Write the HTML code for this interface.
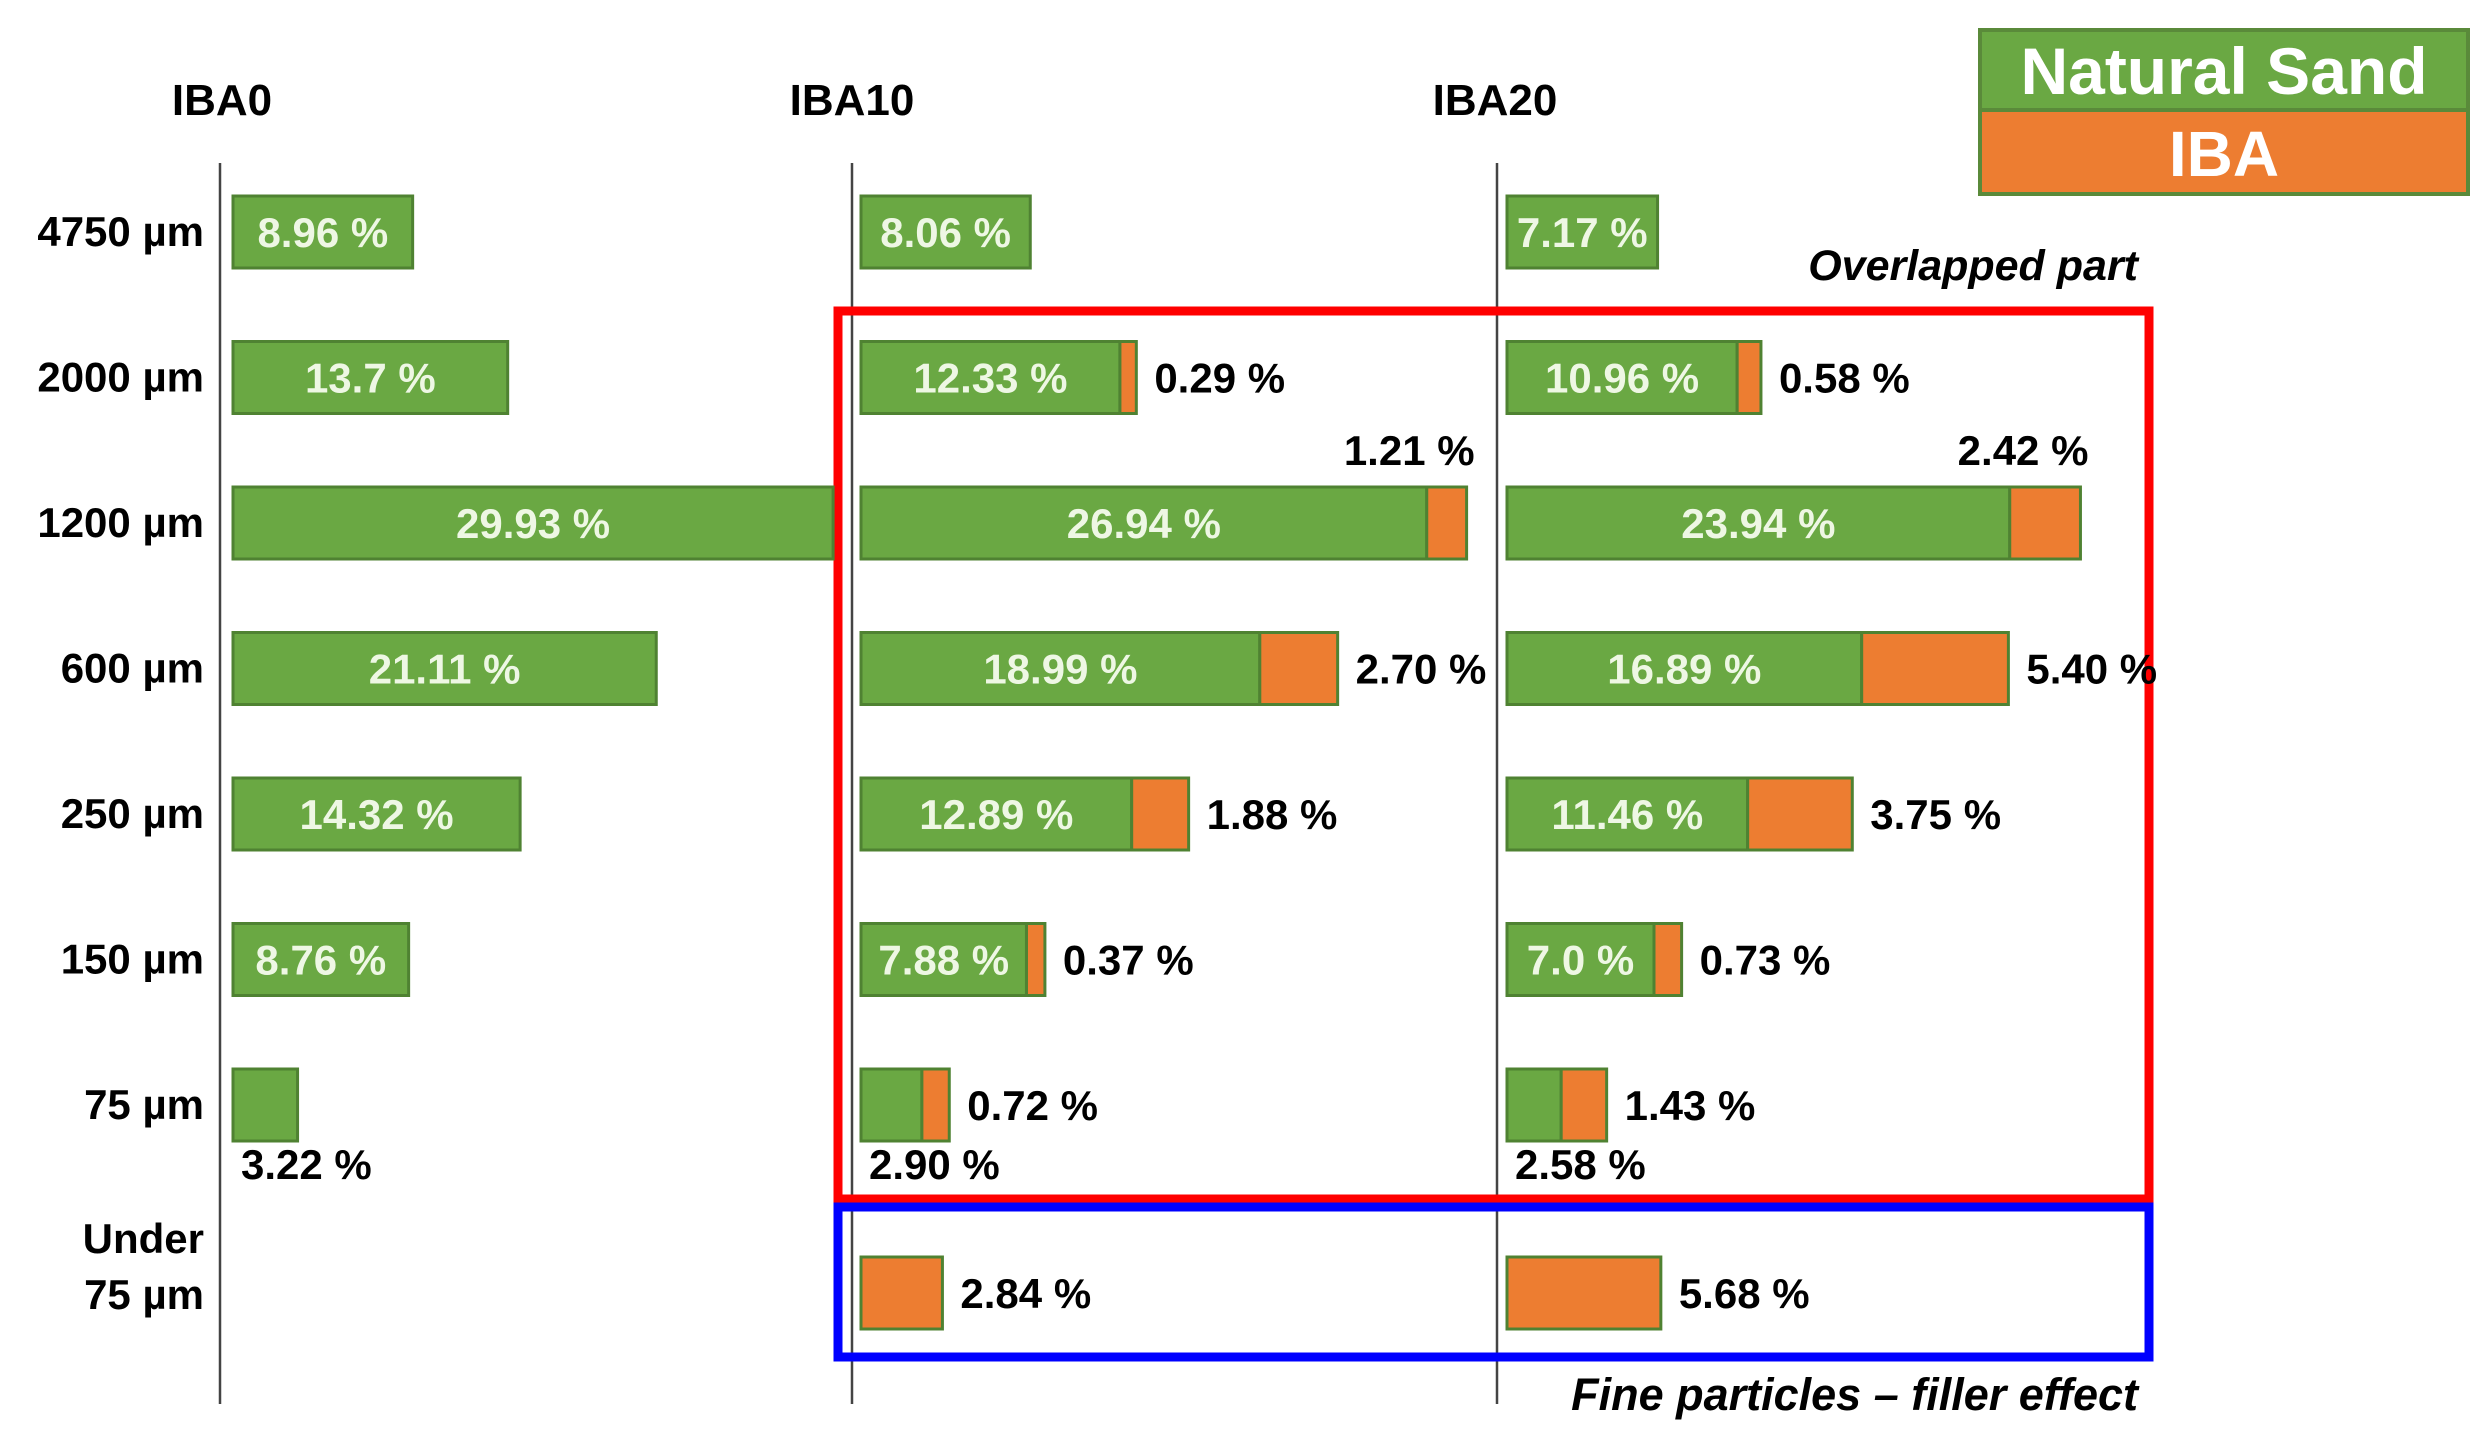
<!DOCTYPE html>
<html><head><meta charset="utf-8"><style>
html,body{margin:0;padding:0;background:#fff;}
svg{display:block;font-family:"Liberation Sans",sans-serif;}
</style></head><body>
<svg id="chart" width="2492" height="1450" viewBox="0 0 2492 1450" xmlns="http://www.w3.org/2000/svg">
<g id="static">
<text x="222" y="115" font-size="44" font-weight="bold" text-anchor="middle">IBA0</text>
<text x="852" y="115" font-size="44" font-weight="bold" text-anchor="middle">IBA10</text>
<text x="1495" y="115" font-size="44" font-weight="bold" text-anchor="middle">IBA20</text>
<line x1="220" y1="163" x2="220" y2="1404" stroke="#444" stroke-width="2.5"/>
<line x1="852" y1="163" x2="852" y2="1404" stroke="#444" stroke-width="2.5"/>
<line x1="1497" y1="163" x2="1497" y2="1404" stroke="#444" stroke-width="2.5"/>
<rect x="1980" y="30" width="488" height="80" fill="#6aa843" stroke="#5a8a3a" stroke-width="4"/>
<rect x="1980" y="110" width="488" height="84" fill="#ed7d31" stroke="#5a8a3a" stroke-width="4"/>
<text x="2224" y="94" font-size="66" font-weight="bold" fill="#fff" text-anchor="middle">Natural Sand</text>
<text x="2224" y="176" font-size="64" font-weight="bold" fill="#fff" text-anchor="middle">IBA</text>
<rect x="838" y="311" width="1311" height="888" fill="none" stroke="#ff0000" stroke-width="9"/>
<rect x="838" y="1207" width="1311" height="150" fill="none" stroke="#0000ff" stroke-width="9"/>
<text x="2138" y="280" font-size="43" font-weight="bold" font-style="italic" text-anchor="end">Overlapped part</text>
<text x="2138" y="1410" font-size="45" font-weight="bold" font-style="italic" text-anchor="end">Fine particles – filler effect</text>
</g>
<g id="marks"></g>
</svg>
<script>
const sizes = ["4750 µm","2000 µm","1200 µm","600 µm","250 µm","150 µm","75 µm","Under 75 µm"];
const iba0Sand = [8.96,13.7,29.93,21.11,14.32,8.76,3.22,0];
const iba10Sand = [8.06,12.33,26.94,18.99,12.89,7.88,2.90,0];
const iba10Iba = [0,0.29,1.21,2.70,1.88,0.37,0.72,2.84];
const iba20Sand = [7.17,10.96,23.94,16.89,11.46,7.0,2.58,0];
const iba20Iba = [0,0.58,2.42,5.40,3.75,0.73,1.43,5.68];
const sandLabels = [["8.96 %","13.7 %","29.93 %","21.11 %","14.32 %","8.76 %","3.22 %",""],
 ["8.06 %","12.33 %","26.94 %","18.99 %","12.89 %","7.88 %","2.90 %",""],
 ["7.17 %","10.96 %","23.94 %","16.89 %","11.46 %","7.0 %","2.58 %",""]];
const ibaLabels = [["","","","","","","",""],
 ["","0.29 %","1.21 %","2.70 %","1.88 %","0.37 %","0.72 %","2.84 %"],
 ["","0.58 %","2.42 %","5.40 %","3.75 %","0.73 %","1.43 %","5.68 %"]];

const NS="http://www.w3.org/2000/svg";
const g=document.getElementById('marks');
const groupStart=[233,861,1507];
const sandScale=[20.05,21.0,21.0];
function xSand(gi,v){return v*sandScale[gi];}
function xIba(v){return v>0 ? 9+25.5*v : 0;}
function yRow(i){return i<7 ? 232+i*145.5 : 1293;}
const BH=72;
function mk(tag,attrs){const e=document.createElementNS(NS,tag);for(const k in attrs)e.setAttribute(k,attrs[k]);g.appendChild(e);return e;}
function txt(x,y,s,attrs){const t=mk('text',Object.assign({x:x,y:y,'font-size':40,'font-weight':'bold'},attrs));t.textContent=s;return t;}

sizes.forEach((s,i)=>{
  const y=yRow(i);
  if(i<7){
    const t=txt(204,y+14,s,{'text-anchor':'end','font-size':42});
    
    
  } else {
    const t1=txt(204,y-40,"Under",{'text-anchor':'end','font-size':42});
    
    
    const t2=txt(204,y+16,"75 µm",{'text-anchor':'end','font-size':42});
    
    
  }
});

const sandSets=[iba0Sand,iba10Sand,iba20Sand];
const ibaSets=[null,iba10Iba,iba20Iba];
for(let gi=0;gi<3;gi++){
  for(let i=0;i<sizes.length;i++){
    const y=yRow(i)-BH/2;
    const x0=groupStart[gi];
    const sw=xSand(gi,sandSets[gi][i]);
    if(sw>0){
      const r=mk('rect',{x:x0,y:y,width:sw,height:BH,fill:'#6aa843',stroke:'#4f8232','stroke-width':3});
      
      
    }
    let iw=0;
    if(ibaSets[gi]){ iw=xIba(ibaSets[gi][i]); }
    if(iw>0){
      const r=mk('rect',{x:x0+sw,y:y,width:iw,height:BH,fill:'#ed7d31',stroke:'#4f8232','stroke-width':3});
      
      
    }
    const end=x0+sw+iw;
    const sl=sandLabels[gi][i];
    if(sl){
      let t;
      if(i===6){ t=txt(x0+8,y+BH+38,sl,{'font-size':42}); }
      else { t=txt(x0+sw/2,y+BH/2+15,sl,{'text-anchor':'middle',fill:'#eef7e4','font-size':42}); }
      
      
    }
    const il=ibaLabels[gi][i];
    if(il){
      let t;
      if(i===2){ t=txt(end+8,y-22,il,{'text-anchor':'end','font-size':42}); }
      else { t=txt(end+18,y+BH/2+15,il,{'font-size':42}); }
      
      
    }
  }
}
</script>
</body></html>
